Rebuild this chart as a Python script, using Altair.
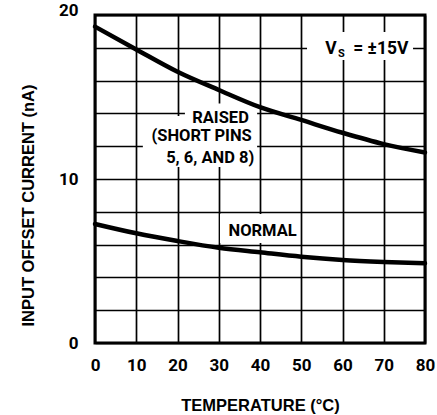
import altair as alt
import pandas as pd

# ---- data ----
temperature = [0, 10, 20, 30, 40, 50, 60, 70, 80]
raised_nA = [19.29, 17.9, 16.54, 15.43, 14.38, 13.6, 12.82, 12.13, 11.62]
normal_nA = [7.26, 6.69, 6.22, 5.81, 5.53, 5.26, 5.06, 4.94, 4.86]

x_ticks = [0, 10, 20, 30, 40, 50, 60, 70, 80]
y_grid = [0, 2, 4, 6, 8, 10, 12, 14, 16, 18, 20]

LABEL_FONT = "Roboto, Liberation Sans, sans-serif"
TITLE_FONT = "Liberation Sans, Arial, sans-serif"

curves = pd.DataFrame({
    "t": temperature * 2,
    "i": raised_nA + normal_nA,
    "series": ["RAISED"] * len(temperature) + ["NORMAL"] * len(temperature),
})

# white label boxes (data coords) that hide the grid behind labels
boxes = pd.DataFrame([
    {"x": 51.4, "x2": 77.1, "y": 18.96, "y2": 17.26},
    {"x": 21.8, "x2": 39.3, "y": 14.6, "y2": 13.3},
    {"x": 11.6, "x2": 39.3, "y": 13.84, "y2": 10.73},
    {"x": 30.3, "x2": 49.7, "y": 7.87, "y2": 6.1},
])

left_labels = pd.DataFrame([
    {"x": 55.8, "y": 17.62, "text": "V", "size": 17.5},
    {"x": 58.9, "y": 17.45, "text": "S", "size": 11},
    {"x": 62.6, "y": 17.62, "text": "= ±15V", "size": 17.5},
])
right_labels = pd.DataFrame([
    {"x": 37.3, "y": 13.42, "text": "RAISED", "size": 16.5},
    {"x": 38.0, "y": 12.33, "text": "(SHORT PINS", "size": 16.5},
    {"x": 38.6, "y": 10.95, "text": "5, 6, AND 8)", "size": 16.5},
    {"x": 48.9, "y": 6.55, "text": "NORMAL", "size": 16.5},
])

xscale = alt.Scale(domain=[0, 80], nice=False, zero=False)
yscale = alt.Scale(domain=[0, 20], nice=False)

xaxis = alt.Axis(
    values=x_ticks, grid=True, gridColor="black", gridWidth=1.7, gridOpacity=1,
    ticks=False, domain=False, labelFont=LABEL_FONT, labelFontSize=17,
    labelFontWeight="bold", labelColor="black", labelPadding=14,
    labelFlush=False, labelOverlap=False,
    title="TEMPERATURE (°C)", titleFont=TITLE_FONT, titleFontSize=16.5,
    titleFontWeight="bold", titleColor="black",
    titleBaseline="alphabetic", titleY=67,
)
yaxis = alt.Axis(
    values=y_grid, grid=True, gridColor="black", gridWidth=1.7, gridOpacity=1,
    ticks=False, domain=False, labelFont=LABEL_FONT, labelFontSize=17,
    labelFontWeight="bold", labelColor="black", labelPadding=17,
    labelExpr="datum.value % 10 == 0 ? datum.label : ''",
    labelBaseline={"condition": {"test": "datum.value == 20", "value": "alphabetic"}, "value": "middle"},
    labelFlush=False, labelOverlap=False,
    title="INPUT OFFSET CURRENT (nA)", titleFont=TITLE_FONT, titleFontSize=16.5,
    titleFontWeight="bold", titleColor="black",
    titleBaseline="alphabetic", titleX=-62, titleY=190, titleAngle=-90,
)

X = lambda f: alt.X(f, scale=xscale, axis=xaxis)
Y = lambda f: alt.Y(f, scale=yscale, axis=yaxis)

box_layer = alt.Chart(boxes).mark_rect(color="white").encode(
    x=X("x:Q"), x2="x2:Q", y=Y("y:Q"), y2="y2:Q",
)


def text_layer(df, align):
    return alt.Chart(df).mark_text(
        font=LABEL_FONT, fontWeight="bold", color="black",
        baseline="alphabetic", align=align,
    ).encode(
        x=X("x:Q"),
        y=Y("y:Q"),
        text="text:N",
        size=alt.Size("size:Q", scale=None, legend=None),
    )


line_layer = alt.Chart(curves).mark_line(
    color="black", strokeWidth=4.5, interpolate="monotone", strokeCap="round"
).encode(
    x=X("t:Q"),
    y=Y("i:Q"),
    detail="series:N",
)

chart = alt.layer(
    box_layer, text_layer(left_labels, "left"), text_layer(right_labels, "right"), line_layer
).properties(
    width=330, height=328,
    autosize=alt.AutoSizeParams(type="none"),
    padding={"left": 95, "top": 15, "right": 12, "bottom": 72},
    background="white",
).configure_view(stroke="black", strokeWidth=3)

chart.save("out.html", embed_options={"renderer": "svg", "actions": False})
